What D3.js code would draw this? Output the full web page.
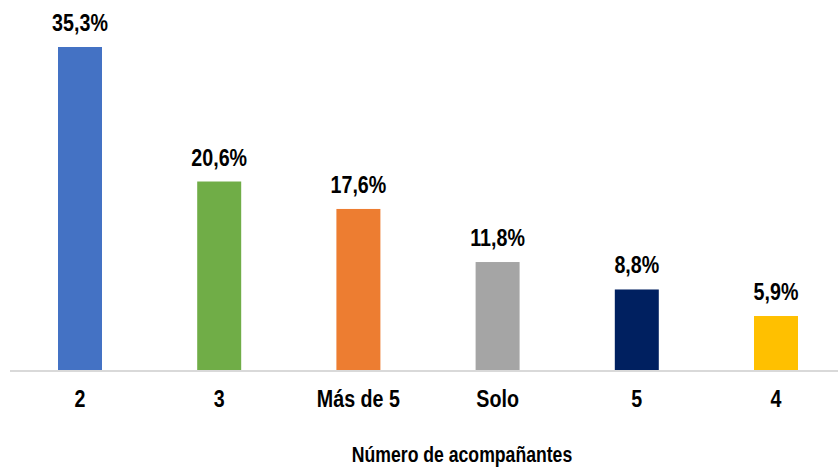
<!DOCTYPE html>
<html lang="es">
<head>
<meta charset="UTF-8">
<script src="https://d3js.org/d3.v7.min.js"></script>
<title>Número de acompañantes</title>
<style>
  body { margin: 0; background: #fff; }
  svg text { font-family: "Liberation Sans", Arial, sans-serif; font-weight: bold; fill: #000; }
</style>
</head>
<body>
<svg width="838" height="469"></svg>
<script>
// data
const categories = ["2", "3", "Más de 5", "Solo", "5", "4"];
const values = [35.3, 20.6, 17.6, 11.8, 8.8, 5.9];
const colors = ["#4472C4", "#70AD47", "#ED7D31", "#A5A5A5", "#002060", "#FFC000"];
const axisTitle = "Número de acompañantes";

const svg = d3.select("svg");
const baseY = 370;
// no narrow font installed, so squeeze the regular one like Arial Narrow
const narrow = (px, py) => "translate(" + px + "," + py + ") scale(0.82,1)";

const x = d3.scaleBand().domain(categories).range([10.4, 845.6]).paddingInner(0.684).paddingOuter(0.342);
const y = d3.scaleLinear().domain([0, 35.3]).range([baseY, 47]);

const fmt = v => v.toFixed(1).replace(".", ",") + "%";

svg.append("g")
  .selectAll("rect")
  .data(values)
  .enter()
  .append("rect")
  .attr("x", (d, i) => x(categories[i]))
  .attr("y", d => y(d))
  .attr("width", x.bandwidth())
  .attr("height", d => baseY - y(d))
  .attr("fill", (d, i) => colors[i]);

// value labels
svg.append("g")
  .selectAll("text")
  .data(values)
  .enter()
  .append("text")
  .attr("transform", (d, i) => narrow(x(categories[i]) + x.bandwidth() / 2, y(d) - 16))
  .attr("text-anchor", "middle")
  .style("font-size", "24px")
  .text(d => fmt(d));

// baseline
svg.append("line")
  .attr("x1", 10).attr("x2", 838)
  .attr("y1", baseY + 1).attr("y2", baseY + 1)
  .attr("stroke", "#d9d9d9")
  .attr("stroke-width", 2);

// category labels
svg.append("g")
  .selectAll("text")
  .data(categories)
  .enter()
  .append("text")
  .attr("transform", d => narrow(x(d) + x.bandwidth() / 2, 407))
  .attr("text-anchor", "middle")
  .style("font-size", "24px")
  .text(d => d);

svg.append("text")
  .attr("transform", narrow(462, 462))
  .attr("text-anchor", "middle")
  .style("font-size", "21.5px")
  .text(axisTitle);
</script>
</body>
</html>
